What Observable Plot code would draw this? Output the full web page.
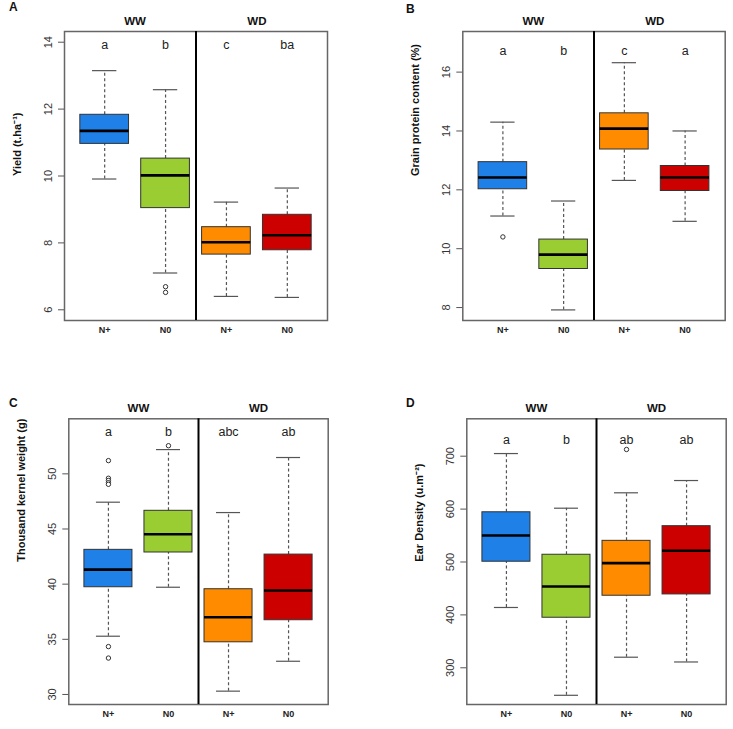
<!DOCTYPE html>
<html>
<head>
<meta charset="utf-8">
<script src="https://cdn.jsdelivr.net/npm/d3@7"></script>
<script src="https://cdn.jsdelivr.net/npm/@observablehq/plot@0.6"></script>
<style>
  html, body { margin: 0; padding: 0; background: #fff; }
  #root { position: relative; width: 733px; height: 729px; overflow: hidden; font-family: "Liberation Sans", Arial, sans-serif; }
  .panel { position: absolute; }
  .plabel { position: absolute; font: bold 12px "Liberation Sans", Arial, sans-serif; color: #111; }
</style>
</head>
<body>
<div id="root"></div>
<script>
// ---- categories ----
const groups = ["WW", "WW", "WD", "WD"];
const nitrogen = ["N+", "N0", "N+", "N0"];
const colors = ["#1f80e8", "#9acd32", "#ff8c00", "#cd0000"];

// ---- five-number summaries per treatment: [lowerWhisker, Q1, median, Q3, upperWhisker] ----
const yieldBox = [[9.91, 10.96, 11.35, 11.83, 13.15], [7.10, 9.04, 10.02, 10.52, 12.58], [6.40, 7.65, 8.02, 8.47, 9.22], [6.37, 7.78, 8.23, 8.84, 9.64]];
const yieldOut = [[1, 6.69], [1, 6.52]];
const yieldLetters = ["a", "b", "c", "ba"];
const yieldTicks = [6, 8, 10, 12, 14];

const proteinBox = [[11.11, 12.02, 12.42, 12.94, 14.30], [7.92, 9.31, 9.80, 10.31, 11.62], [12.32, 13.37, 14.08, 14.60, 16.32], [10.93, 11.96, 12.42, 12.81, 14.00]];
const proteinOut = [[0, 10.40]];
const proteinLetters = ["a", "b", "c", "a"];
const proteinTicks = [8, 10, 12, 14, 16];

const tkwBox = [[35.28, 39.72, 41.32, 43.11, 47.43], [39.72, 42.87, 44.52, 46.65, 52.20], [30.30, 34.73, 37.00, 39.54, 46.49], [33.01, 36.73, 39.42, 42.68, 51.48]];
const tkwOut = [[0, 51.2], [0, 49.6], [0, 49.4], [0, 49.2], [0, 49.05], [0, 34.34], [0, 33.3], [1, 52.55]];
const tkwLetters = ["a", "b", "abc", "ab"];
const tkwTicks = [30, 35, 40, 45, 50];

const earBox = [[414, 500.5, 550, 594, 705], [248, 394.6, 453.8, 513.7, 601.7], [320, 436.2, 497.8, 540, 630.8], [311, 438.7, 521.2, 567.7, 654]];
const earOut = [[2, 712.7]];
const earLetters = ["a", "b", "ab", "ab"];
const earTicks = [300, 400, 500, 600, 700];

const panels = [
  {id: "A", box: yieldBox, out: yieldOut, letters: yieldLetters, ticks: yieldTicks, domain: [5.68, 14.32],
   label: "Yield (t.ha\u207B\u00B9)", left: 0, top: 0, width: 366, height: 345,
   m: [31, 39, 25, 64], letterDy: 8.5, pl: [9, 0]},
  {id: "B", box: proteinBox, out: proteinOut, letters: proteinLetters, ticks: proteinTicks, domain: [7.56, 17.38],
   label: "Grain protein content (%)", left: 366, top: 0, width: 367, height: 345,
   m: [31, 8.3, 25, 96.3], letterDy: 14.5, pl: [406, 2]},
  {id: "C", box: tkwBox, out: tkwOut, letters: tkwLetters, ticks: tkwTicks, domain: [29.09, 54.99],
   label: "Thousand kernel weight (g)", left: 0, top: 360, width: 366, height: 369,
   m: [58.3, 38.3, 25, 68.3], letterDy: 8.5, pl: [9, 396]},
  {id: "D", box: earBox, out: earOut, letters: earLetters, ticks: earTicks, domain: [230.6, 770.7],
   label: "Ear Density (u.m\u207B\u00B2)", left: 366, top: 360, width: 367, height: 369,
   m: [58.3, 7.3, 25, 100.3], letterDy: 16.5, pl: [406, 396]}
];

const root = document.getElementById("root");
const font = "Liberation Sans, Arial, sans-serif";

for (const p of panels) {
  const rows = p.box.map((b, i) => ({
    pos: i + 1, group: groups[i], n: nitrogen[i], color: colors[i], letter: p.letters[i],
    lo: b[0], q1: b[1], med: b[2], q3: b[3], hi: b[4]
  }));
  const outs = p.out.map(([i, v]) => ({pos: i + 1, v}));
  const groupNames = [...new Set(groups)];
  const groupRows = groupNames.map(g => ({g, pos: d3.mean(rows.filter(r => r.group === g), r => r.pos)}));
  const dividers = groupNames.slice(1).map(g => {
    const first = d3.min(rows.filter(r => r.group === g), r => r.pos);
    return first - 0.5;
  });

  const plot = Plot.plot({
    width: p.width, height: p.height,
    marginTop: p.m[0], marginRight: p.m[1], marginBottom: p.m[2], marginLeft: p.m[3],
    style: {fontFamily: font, background: "white", overflow: "visible"},
    x: {domain: [0.34, 4.66], axis: null},
    y: {domain: p.domain, axis: null},
    marks: [
      // whiskers (dashed)
      Plot.ruleX(rows, {x: "pos", y1: "q3", y2: "hi", stroke: "#555", strokeWidth: 1.2, strokeDasharray: "3,2.5"}),
      Plot.ruleX(rows, {x: "pos", y1: "lo", y2: "q1", stroke: "#555", strokeWidth: 1.2, strokeDasharray: "3,2.5"}),
      // caps
      Plot.ruleY(rows, {y: "hi", x1: d => d.pos - 0.2, x2: d => d.pos + 0.2, stroke: "#555", strokeWidth: 1.2}),
      Plot.ruleY(rows, {y: "lo", x1: d => d.pos - 0.2, x2: d => d.pos + 0.2, stroke: "#555", strokeWidth: 1.2}),
      // boxes
      Plot.rect(rows, {x1: d => d.pos - 0.4, x2: d => d.pos + 0.4, y1: "q1", y2: "q3", fill: "color", stroke: "#333", strokeWidth: 1}),
      // medians
      Plot.ruleY(rows, {y: "med", x1: d => d.pos - 0.4, x2: d => d.pos + 0.4, stroke: "#000", strokeWidth: 2.6}),
      // outliers
      Plot.dot(outs, {x: "pos", y: "v", r: 2.2, stroke: "#333", strokeWidth: 1, fill: "white"}),
      // significance letters
      Plot.text(rows, {x: "pos", text: "letter", frameAnchor: "top", dy: p.letterDy, fontSize: 12.5, fill: "#222"}),
      // group labels
      Plot.text(groupRows, {x: "pos", text: "g", frameAnchor: "top", dy: -14.5, fontSize: 11.5, fontWeight: "bold", fill: "#111"}),
      // x labels
      Plot.text(rows, {x: "pos", text: "n", frameAnchor: "bottom", dy: 12, fontSize: 9, fontWeight: "bold", fill: "#222"}),
      // frame and divider
      Plot.frame({stroke: "#666", strokeWidth: 1.5}),
      Plot.ruleX(dividers, {stroke: "#000", strokeWidth: 2}),
      // y axis
      Plot.axisY({ticks: p.ticks, tickSize: 6, tickPadding: 7, tickRotate: -90, fontSize: 11, stroke: "#555", color: "#333", label: null}),
      // y title
      Plot.text([p.label], {frameAnchor: "left", rotate: -90, dx: -47, fontSize: 11, fontWeight: "bold", fill: "#111"})
    ]
  });
  plot.classList.add("panel");
  plot.style.left = p.left + "px";
  plot.style.top = p.top + "px";
  root.appendChild(plot);

  const lab = document.createElement("div");
  lab.className = "plabel";
  lab.textContent = p.id;
  lab.style.left = p.pl[0] + "px";
  lab.style.top = p.pl[1] + "px";
  root.appendChild(lab);
}
</script>
</body>
</html>
